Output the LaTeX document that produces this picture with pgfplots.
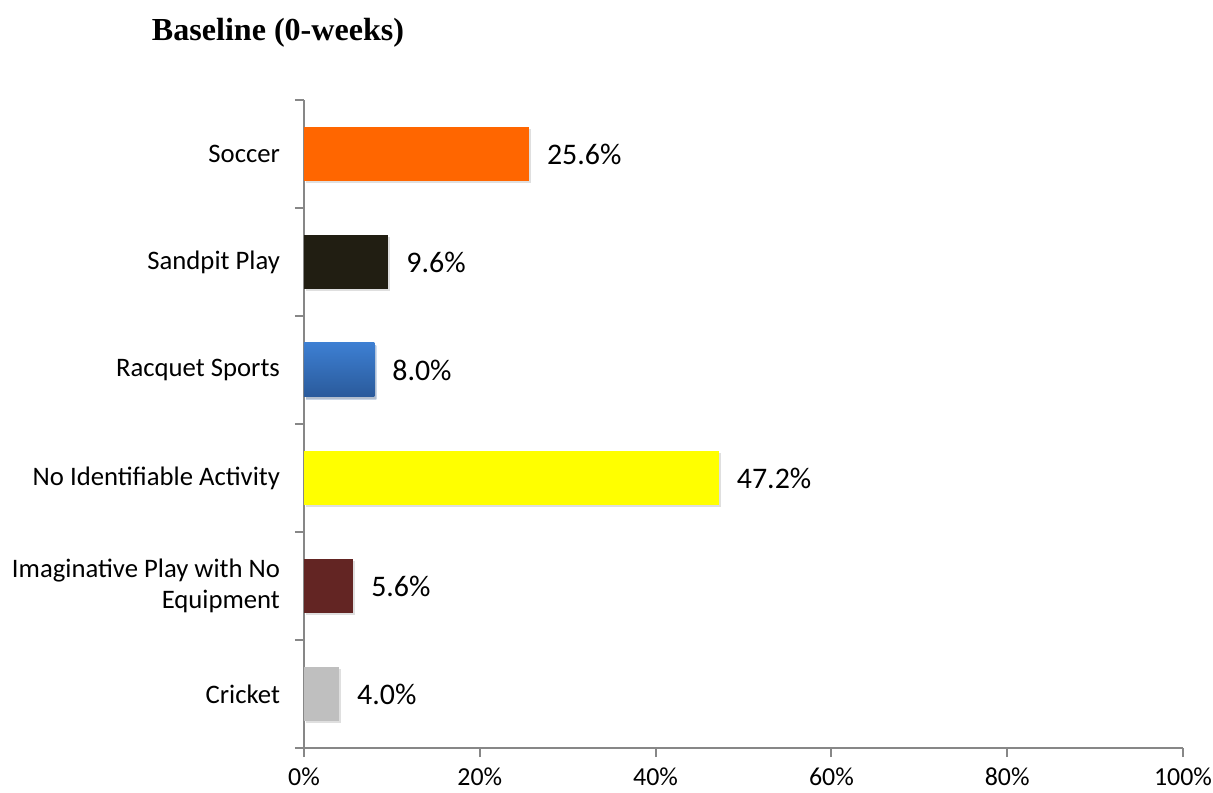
\documentclass[border=0pt]{standalone}
\usepackage{fontspec}
\setmainfont{Carlito}
\newfontfamily\titlefont{Liberation Serif}
\usepackage{pgfplots}
\pgfplotsset{compat=1.18}
\usetikzlibrary{shadows}

\definecolor{soccer}{HTML}{FF6600}
\definecolor{sandpit}{HTML}{211E12}
\definecolor{racqtop}{HTML}{3D7FD2}
\definecolor{racqbot}{HTML}{2A5A9B}
\definecolor{noact}{HTML}{FFFF00}
\definecolor{imag}{HTML}{632523}
\definecolor{cricket}{HTML}{BFBFBF}
\definecolor{axisgray}{HTML}{878787}

\begin{document}
\begin{tikzpicture}
\begin{axis}[
    at={(0,0)}, anchor=south west,
    scale only axis,
    width=439.5bp, height=324bp,
    xbar, bar width=27bp,
    xmin=0, xmax=100,
    ymin=-0.5, ymax=5.5,
    axis y line=left, axis x line=bottom,
    axis line style={draw=axisgray, line width=1bp, -},
    tick align=outside,
    xtick={0,20,...,100},
    xticklabel={\pgfmathprintnumber{\tick}\%},
    major tick length=4.5bp,
    x tick style={draw=axisgray, line width=1bp},
    ytick={0,...,5},
    yticklabels={Cricket,{Imaginative Play with No\\Equipment},No Identifiable Activity,Racquet Sports,Sandpit Play,Soccer},
    y tick style={draw=none},
    minor ytick={-0.5,0.5,...,5.5},
    minor y tick style={draw=axisgray, line width=1bp},
    minor tick length=4.5bp,
    yticklabel style={align=right, font=\fontsize{13.4}{15.5}\selectfont, xshift=-4bp},
    xticklabel style={font=\fontsize{13}{15}\selectfont, yshift=-2bp},
    /pgf/number format/assume math mode=true,
    nodes near coords={\pgfmathprintnumber[fixed,precision=1,fixed zerofill]{\pgfplotspointmeta}\%},
    every node near coord/.append style={font=\fontsize{15}{17}\selectfont, xshift=5.5bp, text=black},
    clip=false,
]
\addplot[bar shift=0pt, fill=cricket, draw=none, drop shadow={shadow xshift=1bp, shadow yshift=-1.2bp, opacity=0.25}] coordinates {(4.0,0)};
\addplot[bar shift=0pt, fill=imag, draw=none, drop shadow={shadow xshift=1bp, shadow yshift=-1.2bp, opacity=0.25}] coordinates {(5.6,1)};
\addplot[bar shift=0pt, fill=noact, draw=none, drop shadow={shadow xshift=1bp, shadow yshift=-1.2bp, opacity=0.25}] coordinates {(47.2,2)};
\addplot[bar shift=0pt, top color=racqtop, bottom color=racqbot, draw=none, drop shadow={shadow xshift=1bp, shadow yshift=-1.2bp, opacity=0.25}] coordinates {(8.0,3)};
\addplot[bar shift=0pt, fill=sandpit, draw=none, drop shadow={shadow xshift=1bp, shadow yshift=-1.2bp, opacity=0.25}] coordinates {(9.6,4)};
\addplot[bar shift=0pt, fill=soccer, draw=none, drop shadow={shadow xshift=1bp, shadow yshift=-1.2bp, opacity=0.25}] coordinates {(25.6,5)};
\end{axis}
\node[font=\titlefont\bfseries\fontsize{16.1}{19}\selectfont] at (-13bp,357.5bp) {Baseline (0-weeks)};
\pgfresetboundingbox
\path (-152bp,-22.5bp) rectangle (454.5bp,374bp);
\end{tikzpicture}
\end{document}
